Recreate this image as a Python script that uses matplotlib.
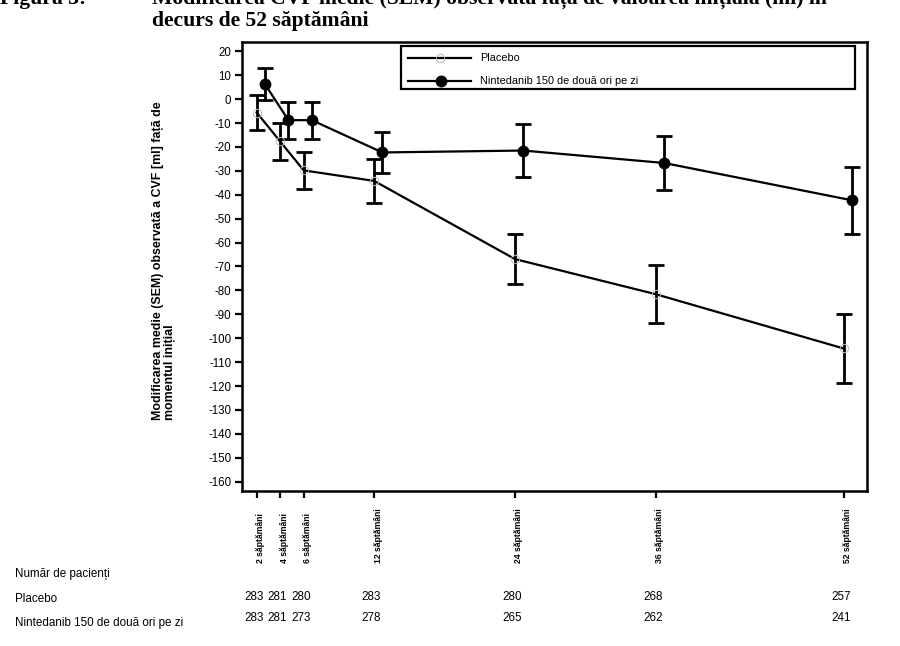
import matplotlib
matplotlib.use('Agg')
import matplotlib.pyplot as plt
from matplotlib.transforms import blended_transform_factory
from matplotlib.patches import Rectangle

plt.rcParams['font.family'] = ['Liberation Sans', 'DejaVu Sans']

# ---- data ----
weeks = [2, 4, 6, 12, 24, 36, 52]
week_labels = ['2 săptămâni', '4 săptămâni', '6 săptămâni', '12 săptămâni',
               '24 săptămâni', '36 săptămâni', '52 săptămâni']
placebo_mean = [-5.6, -17.7, -29.8, -34.2, -66.9, -81.6, -104.3]
placebo_sem = [7.5, 7.6, 7.8, 9.2, 10.6, 12.1, 14.3]
nint_mean = [6.3, -8.8, -8.8, -22.3, -21.5, -26.7, -42.3]
nint_sem = [6.7, 7.8, 7.8, 8.6, 11.2, 11.3, 14.1]
placebo_n = [283, 281, 280, 283, 280, 268, 257]
nint_n = [283, 281, 273, 278, 265, 262, 241]
y_ticks = list(range(20, -170, -10))
series_names = ['Placebo', 'Nintedanib 150 de două ori pe zi']

nint_shift = 0.7  # horizontal offset of the Nintedanib points (weeks)

W, H = 900, 646
fig = plt.figure(figsize=(9, 6.46), dpi=100)


def fx(px):
    return px / W


def fy(py):
    return 1 - py / H


ax_l, ax_r, ax_t, ax_b = 242.3, 866.7, 42.0, 490.5
ax = fig.add_axes([fx(ax_l), fy(ax_b), (ax_r - ax_l) / W, (ax_b - ax_t) / H])

nint_x = [w + nint_shift for w in weeks]

# error bars
ax.errorbar(weeks, placebo_mean, yerr=placebo_sem, fmt='none', ecolor='black',
            elinewidth=2.0, capsize=6, capthick=2.0, zorder=2)
ax.errorbar(nint_x, nint_mean, yerr=nint_sem, fmt='none', ecolor='black',
            elinewidth=2.0, capsize=6, capthick=2.0, zorder=2)
# lines
ax.plot(weeks, placebo_mean, color='black', lw=1.6, marker='o', ms=6,
        mfc='none', mec='#bbbbbb', mew=0.7, zorder=3)
ax.plot(nint_x, nint_mean, color='black', lw=1.6, marker='o', ms=7.5,
        mfc='black', mec='black', zorder=3)

ax.set_xlim(0.773, 53.96)
ax.set_ylim(-163.7, 23.9)
ax.set_yticks(y_ticks)
ax.set_yticklabels([str(v) for v in y_ticks])
ax.set_xticks(weeks)
ax.set_xticklabels([])
for s in ax.spines.values():
    s.set_linewidth(1.8)
ax.tick_params(axis='y', length=5, width=1.6, pad=3, labelsize=8.3)
ax.tick_params(axis='x', length=5, width=1.6)

# x tick labels (rotated, bottom-aligned)
bt = blended_transform_factory(ax.transData, fig.transFigure)
for w, lab in zip(weeks, week_labels):
    ax.text(w - 0.05, fy(563), lab, rotation=90, ha='left', va='bottom',
            fontsize=6.2, fontweight='bold', transform=bt)

# legend (manual)
def axx(px):
    return (px - ax_l) / (ax_r - ax_l)


def axy(py):
    return (ax_b - py) / (ax_b - ax_t)


ax.add_patch(Rectangle((axx(401), axy(89)), axx(855) - axx(401), axy(46) - axy(89),
                       transform=ax.transAxes, fill=False, lw=1.6, ec='black',
                       zorder=5, clip_on=False))
for row_y, name, filled in [(58, series_names[0], False), (81, series_names[1], True)]:
    ax.plot([axx(408), axx(471)], [axy(row_y)] * 2, color='black', lw=1.6,
            transform=ax.transAxes, clip_on=False, zorder=6)
    if filled:
        ax.plot([axx(441)], [axy(row_y)], marker='o', ms=7.5, mfc='black', mec='black',
                transform=ax.transAxes, clip_on=False, zorder=7)
    else:
        ax.plot([axx(440)], [axy(row_y)], marker='o', ms=6, mfc='none', mec='#bbbbbb',
                mew=0.7, transform=ax.transAxes, clip_on=False, zorder=7)
    ax.text(axx(480), axy(row_y), name, transform=ax.transAxes, fontsize=7.8,
            va='center', ha='left', zorder=7)

# y label
fig.text(fx(163.5), fy(420),
         'Modificarea medie (SEM) observată a CVF [ml] față de\nmomentul inițial',
         rotation=90, ha='center', va='bottom', multialignment='left',
         fontsize=8.9, fontweight='bold', linespacing=1.0)

# title (first line partially cut off at the top, as in the source)
tfont = dict(family='Liberation Serif', fontweight='bold', fontsize=15.6, va='baseline')
fig.text(fx(0), fy(4), 'Figura 3:', **tfont)
fig.text(fx(151.7), fy(4),
         'Modificarea CVF medie (SEM) observată față de valoarea inițială (ml) în', **tfont)
fig.text(fx(151.7), fy(26), 'decurs de 52 săptămâni', **tfont)

# number of patients table
fig.text(fx(15), fy(574), 'Număr de pacienți', fontsize=8.4, va='center')
fig.text(fx(15), fy(599), series_names[0], fontsize=8.4, va='center')
fig.text(fx(15), fy(623), series_names[1], fontsize=8.4, va='center')
for w, n1, n2 in zip(weeks, placebo_n, nint_n):
    ax.text(w - 0.25, fy(597), str(n1), ha='center', va='center', fontsize=8.4, transform=bt)
    ax.text(w - 0.25, fy(618), str(n2), ha='center', va='center', fontsize=8.4, transform=bt)

fig.savefig('out.png', dpi=100)
